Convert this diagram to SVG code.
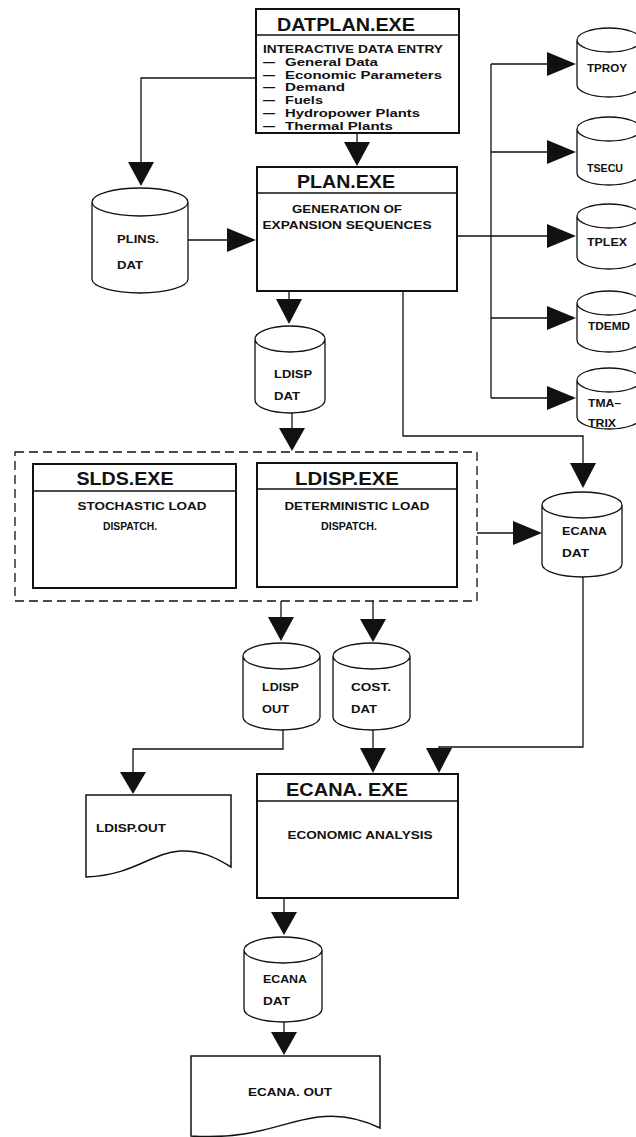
<svg xmlns="http://www.w3.org/2000/svg" width="636" height="1137" viewBox="0 0 636 1137">
<style>
.bg{fill:#ffffff}
.box{fill:#ffffff;stroke:#111;stroke-width:2}
.hdr{stroke:#111;stroke-width:1.6;fill:none}
.cyl{fill:#ffffff;stroke:#111;stroke-width:1.3}
.doc{fill:#ffffff;stroke:#111;stroke-width:1.5}
.dash{fill:none;stroke:#111;stroke-width:1.3;stroke-dasharray:9 5}
.ln{fill:none;stroke:#111;stroke-width:1.3}
.ah{fill:#111;stroke:none}
.t{font-family:"Liberation Sans",Arial,sans-serif;font-weight:bold;fill:#111}
.ttl{font-size:18px}
.bd{font-size:11.5px}
.cy{font-size:11px}
</style>
<rect class="bg" x="0" y="0" width="636" height="1137"/>

<g id="connectors">
  <path class="ln" d="M256,78 H141 V163"/>
  <polygon class="ah" points="128,162 154,162 141,186"/>
  <path class="ln" d="M357,133 V143"/>
  <polygon class="ah" points="344,142 370,142 357,166"/>
  <path class="ln" d="M188,240 H228"/>
  <polygon class="ah" points="227,228 227,252 256,240"/>
  <path class="ln" d="M457,236 H491 M491,64 V398"/>
  <path class="ln" d="M491,64 H548 M491,152 H548 M491,236 H548 M491,318 H548 M491,398 H548"/>
  <polygon class="ah" points="547,52 547,76 576,64"/>
  <polygon class="ah" points="547,140 547,164 576,152"/>
  <polygon class="ah" points="547,224 547,248 576,236"/>
  <polygon class="ah" points="547,306 547,330 576,318"/>
  <polygon class="ah" points="547,386 547,410 576,398"/>
  <path class="ln" d="M289,291 V300"/>
  <polygon class="ah" points="276,299 302,299 289,324"/>
  <path class="ln" d="M403,291 V436 H583 V464"/>
  <polygon class="ah" points="570,463 596,463 583,488"/>
  <path class="ln" d="M292,413 V429"/>
  <polygon class="ah" points="279,428 305,428 292,451"/>
  <path class="ln" d="M477,533 H514"/>
  <polygon class="ah" points="513,521 513,545 542,533"/>
  <path class="ln" d="M281,601 V618"/>
  <polygon class="ah" points="268,617 294,617 281,641"/>
  <path class="ln" d="M373,601 V620"/>
  <polygon class="ah" points="360,619 386,619 373,642"/>
  <path class="ln" d="M283,730 V749 H133 V773"/>
  <polygon class="ah" points="120,772 146,772 133,794"/>
  <path class="ln" d="M373,730 V749"/>
  <polygon class="ah" points="360,748 386,748 373,773"/>
  <path class="ln" d="M583,577 V747 H439 V749"/>
  <polygon class="ah" points="426,748 452,748 439,773"/>
  <path class="ln" d="M284,898 V913"/>
  <polygon class="ah" points="271,912 297,912 284,935"/>
  <path class="ln" d="M284,1022 V1033"/>
  <polygon class="ah" points="271,1032 297,1032 284,1055"/>
</g>

<g id="datplan">
  <rect class="box" x="256" y="9" width="203" height="124"/>
  <line class="hdr" x1="256" y1="35" x2="459" y2="35"/>
  <text class="t ttl" x="346" y="31" text-anchor="middle" textLength="138" lengthAdjust="spacingAndGlyphs">DATPLAN.EXE</text>
  <text class="t bd" x="263" y="53" textLength="180" lengthAdjust="spacingAndGlyphs">INTERACTIVE  DATA  ENTRY</text>
  <text class="t bd" x="263" y="66" textLength="12" lengthAdjust="spacingAndGlyphs">—</text><text class="t bd" x="285" y="66" textLength="93" lengthAdjust="spacingAndGlyphs">General Data</text>
  <text class="t bd" x="263" y="78.5" textLength="12" lengthAdjust="spacingAndGlyphs">—</text><text class="t bd" x="285" y="78.5" textLength="157" lengthAdjust="spacingAndGlyphs">Economic Parameters</text>
  <text class="t bd" x="263" y="91" textLength="12" lengthAdjust="spacingAndGlyphs">—</text><text class="t bd" x="285" y="91" textLength="60" lengthAdjust="spacingAndGlyphs">Demand</text>
  <text class="t bd" x="263" y="104" textLength="12" lengthAdjust="spacingAndGlyphs">—</text><text class="t bd" x="285" y="104" textLength="38" lengthAdjust="spacingAndGlyphs">Fuels</text>
  <text class="t bd" x="263" y="117" textLength="12" lengthAdjust="spacingAndGlyphs">—</text><text class="t bd" x="285" y="117" textLength="135" lengthAdjust="spacingAndGlyphs">Hydropower Plants</text>
  <text class="t bd" x="263" y="129.5" textLength="12" lengthAdjust="spacingAndGlyphs">—</text><text class="t bd" x="285" y="129.5" textLength="108" lengthAdjust="spacingAndGlyphs">Thermal Plants</text>
</g>

<g id="plins">
  <path class="cyl" d="M92,202 V279 A48,14 0 0 0 188,279 V202 A48,14 0 0 0 92,202 A48,14 0 0 0 188,202"/>
  <text class="t cy" x="117" y="243" textLength="42" lengthAdjust="spacingAndGlyphs">PLINS.</text>
  <text class="t cy" x="117" y="269" textLength="26" lengthAdjust="spacingAndGlyphs">DAT</text>
</g>

<g id="plan">
  <rect class="box" x="257" y="167" width="200" height="124"/>
  <line class="hdr" x1="257" y1="193" x2="457" y2="193"/>
  <text class="t ttl" x="346" y="188" text-anchor="middle" textLength="98" lengthAdjust="spacingAndGlyphs">PLAN.EXE</text>
  <text class="t bd" x="347" y="213" text-anchor="middle" textLength="110" lengthAdjust="spacingAndGlyphs">GENERATION  OF</text>
  <text class="t bd" x="347" y="229" text-anchor="middle" textLength="169" lengthAdjust="spacingAndGlyphs">EXPANSION  SEQUENCES</text>
</g>

<g id="tproy">
  <path class="cyl" d="M577,40 V85 A32,12 0 0 0 641,85 V40 A32,12 0 0 0 577,40 A32,12 0 0 0 641,40"/>
  <text class="t cy" x="587" y="72" textLength="40" lengthAdjust="spacingAndGlyphs">TPROY</text>
</g>
<g id="tsecu">
  <path class="cyl" d="M577,129 V173 A32,12 0 0 0 641,173 V129 A32,12 0 0 0 577,129 A32,12 0 0 0 641,129"/>
  <text class="t cy" x="587" y="172" textLength="36" lengthAdjust="spacingAndGlyphs">TSECU</text>
</g>
<g id="tplex">
  <path class="cyl" d="M577,216 V257 A32,12 0 0 0 641,257 V216 A32,12 0 0 0 577,216 A32,12 0 0 0 641,216"/>
  <text class="t cy" x="587" y="246" textLength="40" lengthAdjust="spacingAndGlyphs">TPLEX</text>
</g>
<g id="tdemd">
  <path class="cyl" d="M577,303 V340 A32,12 0 0 0 641,340 V303 A32,12 0 0 0 577,303 A32,12 0 0 0 641,303"/>
  <text class="t cy" x="588" y="330" textLength="42" lengthAdjust="spacingAndGlyphs">TDEMD</text>
</g>
<g id="tmatrix">
  <path class="cyl" d="M577,380 V417 A32,12 0 0 0 641,417 V380 A32,12 0 0 0 577,380 A32,12 0 0 0 641,380"/>
  <text class="t cy" x="588" y="407" textLength="33" lengthAdjust="spacingAndGlyphs">TMA–</text>
  <text class="t cy" x="588" y="427" textLength="28" lengthAdjust="spacingAndGlyphs">TRIX</text>
</g>

<g id="ldisp-dat">
  <path class="cyl" d="M255,339 V400 A35,13 0 0 0 325,400 V339 A35,13 0 0 0 255,339 A35,13 0 0 0 325,339"/>
  <text class="t cy" x="274" y="378" textLength="38" lengthAdjust="spacingAndGlyphs">LDISP</text>
  <text class="t cy" x="274" y="400" textLength="26" lengthAdjust="spacingAndGlyphs">DAT</text>
</g>

<g id="dispatch-group">
  <rect class="dash" x="15" y="452" width="462" height="149"/>
</g>

<g id="slds">
  <rect class="box" x="33" y="464" width="203" height="124"/>
  <line class="hdr" x1="33" y1="491" x2="236" y2="491"/>
  <text class="t ttl" x="125" y="485" text-anchor="middle" textLength="97" lengthAdjust="spacingAndGlyphs">SLDS.EXE</text>
  <text class="t bd" x="142" y="510" text-anchor="middle" textLength="129" lengthAdjust="spacingAndGlyphs">STOCHASTIC  LOAD</text>
  <text class="t bd" x="130" y="530" text-anchor="middle" textLength="54" lengthAdjust="spacingAndGlyphs">DISPATCH.</text>
</g>

<g id="ldisp-exe">
  <rect class="box" x="257" y="463" width="200" height="124"/>
  <line class="hdr" x1="257" y1="489" x2="457" y2="489"/>
  <text class="t ttl" x="347" y="485" text-anchor="middle" textLength="104" lengthAdjust="spacingAndGlyphs">LDISP.EXE</text>
  <text class="t bd" x="357" y="510" text-anchor="middle" textLength="145" lengthAdjust="spacingAndGlyphs">DETERMINISTIC  LOAD</text>
  <text class="t bd" x="349" y="530" text-anchor="middle" textLength="56" lengthAdjust="spacingAndGlyphs">DISPATCH.</text>
</g>

<g id="ecana-dat-1">
  <path class="cyl" d="M542,505 V564 A40,13 0 0 0 622,564 V505 A40,13 0 0 0 542,505 A40,13 0 0 0 622,505"/>
  <text class="t cy" x="562" y="535" textLength="45" lengthAdjust="spacingAndGlyphs">ECANA</text>
  <text class="t cy" x="562" y="557" textLength="27" lengthAdjust="spacingAndGlyphs">DAT</text>
</g>

<g id="ldisp-out-dat">
  <path class="cyl" d="M243,656 V717 A38.5,13 0 0 0 320,717 V656 A38.5,13 0 0 0 243,656 A38.5,13 0 0 0 320,656"/>
  <text class="t cy" x="262" y="691" textLength="37" lengthAdjust="spacingAndGlyphs">LDISP</text>
  <text class="t cy" x="262" y="713" textLength="27" lengthAdjust="spacingAndGlyphs">OUT</text>
</g>

<g id="cost-dat">
  <path class="cyl" d="M333,656 V717 A38.5,13 0 0 0 410,717 V656 A38.5,13 0 0 0 333,656 A38.5,13 0 0 0 410,656"/>
  <text class="t cy" x="351" y="691" textLength="40" lengthAdjust="spacingAndGlyphs">COST.</text>
  <text class="t cy" x="351" y="713" textLength="26" lengthAdjust="spacingAndGlyphs">DAT</text>
</g>

<g id="ldisp-out-doc">
  <path class="doc" d="M86,795 H231 V867 C215,857 200,850 180,851 C150,853 135,875 86,877 Z"/>
  <text class="t bd" x="96" y="832" textLength="70" lengthAdjust="spacingAndGlyphs">LDISP.OUT</text>
</g>

<g id="ecana-exe">
  <rect class="box" x="257" y="774" width="201" height="124"/>
  <line class="hdr" x1="257" y1="801" x2="458" y2="801"/>
  <text class="t ttl" x="347" y="796" text-anchor="middle" textLength="122" lengthAdjust="spacingAndGlyphs">ECANA. EXE</text>
  <text class="t bd" x="360" y="839" text-anchor="middle" textLength="145" lengthAdjust="spacingAndGlyphs">ECONOMIC  ANALYSIS</text>
</g>

<g id="ecana-dat-2">
  <path class="cyl" d="M244,950 V1009 A39,13 0 0 0 322,1009 V950 A39,13 0 0 0 244,950 A39,13 0 0 0 322,950"/>
  <text class="t cy" x="263" y="983" textLength="44" lengthAdjust="spacingAndGlyphs">ECANA</text>
  <text class="t cy" x="263" y="1005" textLength="27" lengthAdjust="spacingAndGlyphs">DAT</text>
</g>

<g id="ecana-out-doc">
  <path class="doc" d="M191,1056 H380 V1128 C362,1119 342,1114 318,1117 C280,1122 255,1140 191,1136 Z"/>
  <text class="t bd" x="290" y="1096" text-anchor="middle" textLength="84" lengthAdjust="spacingAndGlyphs">ECANA.  OUT</text>
</g>
</svg>
